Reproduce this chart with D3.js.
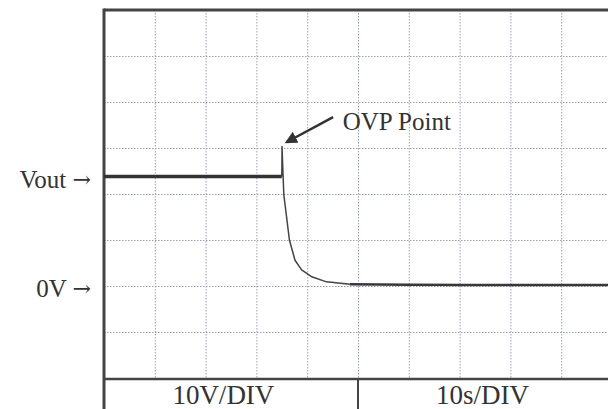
<!DOCTYPE html>
<html>
<head>
<meta charset="utf-8">
<script src="https://cdn.jsdelivr.net/npm/d3@7"></script>
<style>
  html, body { margin: 0; padding: 0; background: #fff; }
  svg { display: block; }
  text { font-family: "Liberation Serif", "Times New Roman", serif; fill: #333; }
</style>
</head>
<body>
<svg id="chart" width="608" height="409"></svg>
<script>
// ---- data (time in s, voltage in V) ----
const timeS    = [0, 35.0, 35.05, 35.15, 35.4, 36.5, 37.6, 38.9, 40.9, 43.8, 48.4, 60, 80, 100];
const voltageV = [23.8, 23.8, 30.3, 27.0, 19.8, 10.0, 5.6, 3.5, 2.0, 0.9, 0.4, 0.25, 0.2, 0.2];
const gridTimes = [10, 20, 30, 40, 50, 60, 70, 80, 90];
const gridVolts = [50, 40, 30, 20, 10, 0, -10];
const levelLabels = [{ text: "Vout", v: 23.8 }, { text: "0V", v: 0 }];
const arrowGlyph = "\u2192";
const scaleLabels = [{ text: "10V/DIV", t: 23.5 }, { text: "10s/DIV", t: 74.5 }];
const ovpLabel = "OVP Point";
const ovpArrow = { fromT: 45.1, fromV: 36.7, toT: 36.0, toV: 31.3, textT: 47.0, textV: 33.9 };

// ---- scales ----
const svg = d3.select("#chart");
const x = d3.scaleLinear().domain([0, 100]).range([104, 612]);
const y = d3.scaleLinear().domain([-20, 60]).range([378, 10]);
const H = 409;
const SERIF = "'Liberation Serif', 'Times New Roman', serif";

// ---- grid through axes ----
const gx = svg.append("g").attr("transform", `translate(0,${y(60)})`)
  .call(d3.axisBottom(x).tickValues(gridTimes).tickSize(y(-20) - y(60)).tickFormat(""));
gx.select(".domain").remove();
gx.selectAll("line").attr("stroke", "#9aa2b6").attr("stroke-width", 1).attr("stroke-dasharray", "1.5,1.5");

const gy = svg.append("g").attr("transform", `translate(${x(0)},0)`)
  .call(d3.axisRight(y).tickValues(gridVolts).tickSize(x(100) - x(0)).tickFormat(""));
gy.select(".domain").remove();
gy.selectAll("line").attr("stroke", "#9aa2b6").attr("stroke-width", 1).attr("stroke-dasharray", "1.5,1.5");

// ---- frame ----
const frame = svg.append("g").attr("stroke", "#444").attr("fill", "none");
frame.append("line").attr("x1", x(0)).attr("x2", 608).attr("y1", y(60)).attr("y2", y(60)).attr("stroke-width", 3);
frame.append("line").attr("x1", x(0)).attr("x2", x(0)).attr("y1", y(60) - 1.5).attr("y2", H).attr("stroke-width", 3);
frame.append("line").attr("x1", x(0)).attr("x2", 608).attr("y1", y(-20) + 1).attr("y2", y(-20) + 1).attr("stroke-width", 2.5);
frame.append("line").attr("x1", x(50)).attr("x2", x(50)).attr("y1", y(-20) + 1).attr("y2", H).attr("stroke-width", 2);

// ---- trace ----
const pts = timeS.map((t, i) => [t, voltageV[i]]);
const line = d3.line().x(d => x(d[0])).y(d => y(d[1]));
svg.append("path").datum(pts.slice(0, 2))
  .attr("d", line).attr("fill", "none").attr("stroke", "#333").attr("stroke-width", 3.5);
svg.append("path").datum(pts.slice(1, 11))
  .attr("d", line.curve(d3.curveLinear))
  .attr("fill", "none").attr("stroke", "#444").attr("stroke-width", 1.5).attr("stroke-linejoin", "round");
svg.append("path").datum(pts.slice(10))
  .attr("d", d3.line().x(d => x(d[0])).y(d => y(d[1])).curve(d3.curveMonotoneX))
  .attr("fill", "none").attr("stroke", "#383838").attr("stroke-width", 2.5);

// ---- labels ----
const lv = svg.selectAll(".lvl").data(levelLabels).join("text")
  .attr("class", "lvl").attr("x", 91).attr("y", d => y(d.v) + 11)
  .attr("text-anchor", "end").attr("font-family", SERIF).attr("font-size", 25);
lv.append("tspan").text(d => d.text + " ");
lv.append("tspan").attr("font-family", "'DejaVu Serif', serif").attr("font-size", 22)
  .attr("dy", -1).text(arrowGlyph);

svg.selectAll(".scl").data(scaleLabels).join("text")
  .attr("class", "scl").attr("x", d => x(d.t)).attr("y", 404)
  .attr("text-anchor", "middle").attr("font-family", SERIF).attr("font-size", 27).text(d => d.text);

svg.append("text").attr("x", x(ovpArrow.textT)).attr("y", y(ovpArrow.textV))
  .attr("font-family", SERIF).attr("font-size", 25).text(ovpLabel);

// arrow
const defs = svg.append("defs");
defs.append("marker").attr("id", "ah").attr("viewBox", "0 0 10 10").attr("refX", 8).attr("refY", 5)
  .attr("markerWidth", 5).attr("markerHeight", 5).attr("orient", "auto")
  .append("path").attr("d", "M0,0 L10,5 L0,10 z").attr("fill", "#333");
svg.append("line")
  .attr("x1", x(ovpArrow.fromT)).attr("y1", y(ovpArrow.fromV))
  .attr("x2", x(ovpArrow.toT)).attr("y2", y(ovpArrow.toV))
  .attr("stroke", "#333").attr("stroke-width", 2.5).attr("marker-end", "url(#ah)");
</script>
</body>
</html>
